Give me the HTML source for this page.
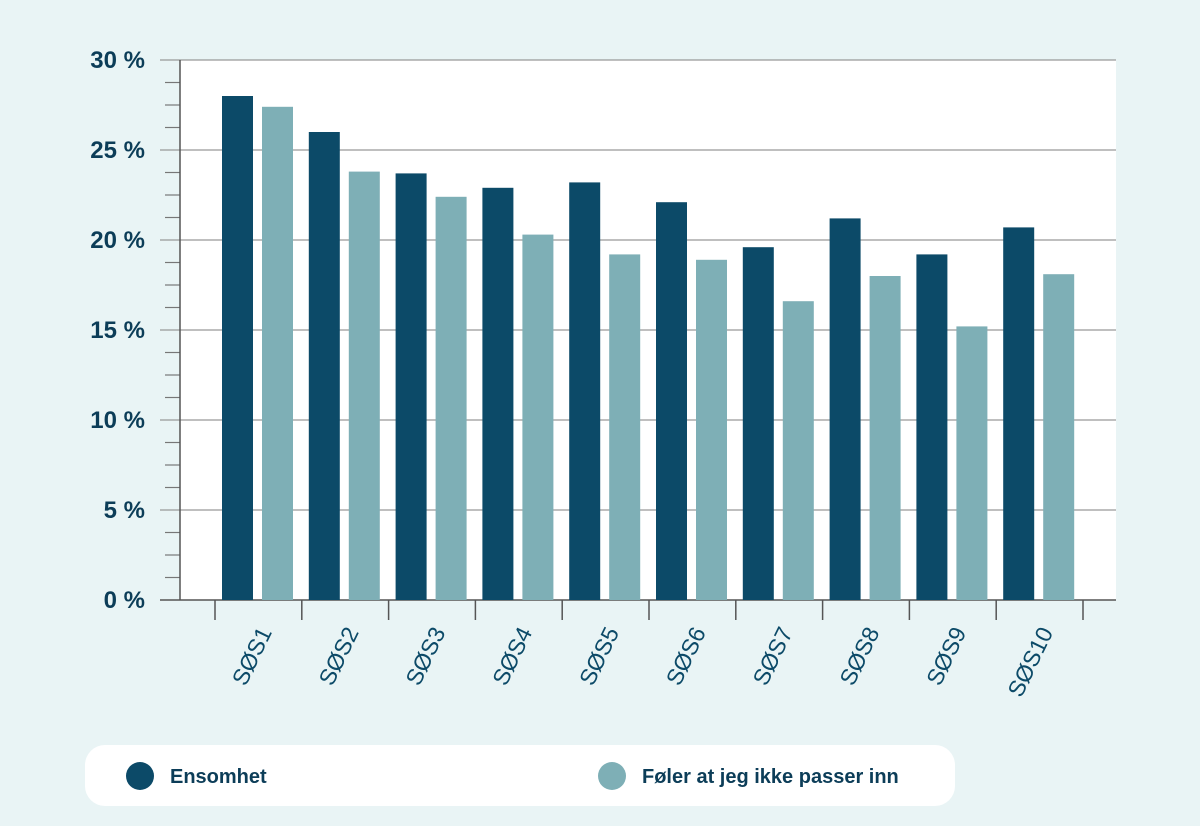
<!DOCTYPE html>
<html><head><meta charset="utf-8"><style>
body{margin:0;background:#e9f4f5;}
svg{display:block;font-family:"Liberation Sans",sans-serif;}
</style></head><body>
<svg width="1200" height="826">
<rect x="0" y="0" width="1200" height="826" fill="#e9f4f5"/>
<rect x="180" y="60" width="936" height="540" fill="#fff"/>
<g id="grid"></g><g id="bars"></g><g id="xax"></g>
<g>
<rect x="85" y="745" width="870" height="61" rx="20" fill="#fff"/>
<circle cx="140" cy="776" r="14" fill="#0c4a68"/>
<text x="170" y="783" font-size="20" font-weight="bold" fill="#0c3d58">Ensomhet</text>
<circle cx="612" cy="776" r="14" fill="#7eafb6"/>
<text x="642" y="783" font-size="20" font-weight="bold" fill="#0c3d58">Føler at jeg ikke passer inn</text>
</g>
</svg>
<script>
const categories=["SØS1","SØS2","SØS3","SØS4","SØS5","SØS6","SØS7","SØS8","SØS9","SØS10"];
const ensomhet=[28,26,23.7,22.9,23.2,22.1,19.6,21.2,19.2,20.7];
const foler=[27.4,23.8,22.4,20.3,19.2,18.9,16.6,18,15.2,18.1];
const yTicks=[0,5,10,15,20,25,30];
const yTickLabels=["0 %","5 %","10 %","15 %","20 %","25 %","30 %"];
const NS="http://www.w3.org/2000/svg";
const y=v=>600-v*18;
const x0=215,step=86.8;
const xc=i=>x0+step*i;
function mk(p,t,a){const e=document.createElementNS(NS,t);for(const k in a)e.setAttribute(k,a[k]);p.appendChild(e);return e;}
const g=document.getElementById('grid');
for(let v=0;v<30;v+=1.25){if(v%5!==0){const l=mk(g,'line',{x1:165,x2:180,y1:y(v),y2:y(v),stroke:'#777','stroke-width':1.2});

}}
yTicks.forEach((v,i)=>{
 const l=mk(g,'line',{x1:160,x2:1116,y1:y(v),y2:y(v),stroke:v===0?'#555':'#999','stroke-width':v===0?1.5:1.2});
 
 
 const t=mk(g,'text',{x:145,y:y(v)+8,'text-anchor':'end','font-size':24,'font-weight':'bold',fill:'#0c3d58'});
 t.textContent=yTickLabels[i];
 
 
});
const ax=mk(g,'line',{x1:180,x2:180,y1:60,y2:600,stroke:'#555','stroke-width':1.5});


const b=document.getElementById('bars');
categories.forEach((c,i)=>{
 const r1=mk(b,'rect',{x:xc(i)+7,y:y(ensomhet[i]),width:31,height:ensomhet[i]*18,fill:'#0c4a68'});
 
 
 const r2=mk(b,'rect',{x:xc(i)+47,y:y(foler[i]),width:31,height:foler[i]*18,fill:'#7eafb6'});
 
 
});
const xa=document.getElementById('xax');
for(let i=0;i<=categories.length;i++){
 const l=mk(xa,'line',{x1:xc(i),x2:xc(i),y1:600,y2:620,stroke:'#555','stroke-width':1.5});
 
 
}
categories.forEach((c,i)=>{
 const cx=xc(i)+step/2+14;
 const t=mk(xa,'text',{x:cx,y:632,'text-anchor':'end','font-size':23,fill:'#0c4a68',transform:`rotate(-64 ${cx} 632)`});
 t.textContent=c;
 
 
});
</script>
</body></html>
